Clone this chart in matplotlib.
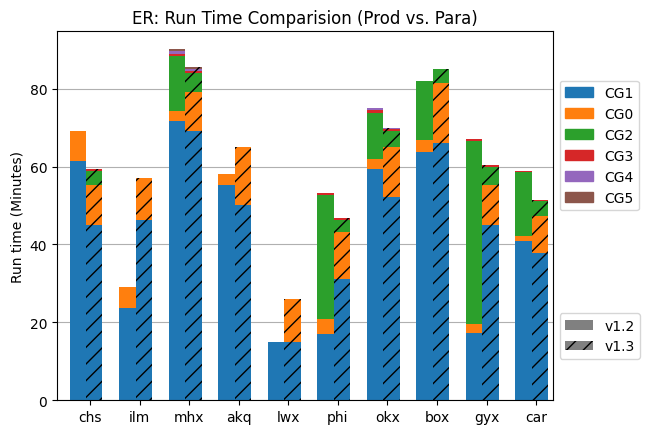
"""
ER run time comparison: stacked bars per site, v1.2 (solid) vs v1.3 (hatched)
"""

import matplotlib
matplotlib.use("Agg")
import matplotlib.pyplot as plt
import matplotlib.patches as mpatches
import numpy as np

sites = ['chs', 'ilm', 'mhx', 'akq', 'lwx', 'phi', 'okx', 'box', 'gyx', 'car']
groups = ['CG1', 'CG0', 'CG2', 'CG3', 'CG4', 'CG5']

# minutes per group, v1.2 (prod)
v12_cg1 = [61.5, 23.6, 71.8, 55.2, 14.9, 16.9, 59.5, 63.8, 17.2, 41.0]
v12_cg0 = [7.7, 5.5, 2.4, 3.0, 0.0, 3.9, 2.4, 3.1, 2.3, 1.1]
v12_cg2 = [0.0, 0.0, 14.3, 0.0, 0.0, 31.8, 11.9, 15.1, 47.2, 16.4]
v12_cg3 = [0.0, 0.0, 0.5, 0.0, 0.0, 0.5, 0.8, 0.0, 0.5, 0.5]
v12_cg4 = [0.0, 0.0, 0.7, 0.0, 0.0, 0.0, 0.5, 0.0, 0.0, 0.0]
v12_cg5 = [0.0, 0.0, 0.6, 0.0, 0.0, 0.0, 0.0, 0.0, 0.0, 0.0]

# minutes per group, v1.3 (para)
v13_cg1 = [45.0, 46.2, 69.2, 50.1, 14.9, 31.1, 52.1, 66.1, 45.1, 37.9]
v13_cg0 = [10.2, 11.0, 10.1, 15.0, 11.0, 12.0, 13.0, 15.3, 10.1, 9.3]
v13_cg2 = [3.8, 0.0, 4.8, 0.0, 0.0, 3.1, 4.1, 3.7, 4.8, 3.9]
v13_cg3 = [0.5, 0.0, 0.5, 0.0, 0.0, 0.5, 0.5, 0.0, 0.5, 0.4]
v13_cg4 = [0.0, 0.0, 0.5, 0.0, 0.0, 0.0, 0.3, 0.0, 0.0, 0.0]
v13_cg5 = [0.0, 0.0, 0.5, 0.0, 0.0, 0.0, 0.0, 0.0, 0.0, 0.0]

colors = ['C0', 'C1', 'C2', 'C3', 'C4', 'C5']


def stack(ax, x, series, width, hatch=None):
    bottom = np.zeros(len(x))
    for vals, color in zip(series, colors):
        vals = np.array(vals)
        if hatch:
            ax.bar(x, vals, width, bottom=bottom, color=color,
                   edgecolor='black', linewidth=0, hatch=hatch)
        else:
            ax.bar(x, vals, width, bottom=bottom, color=color, linewidth=0)
        bottom += vals


fig, ax = plt.subplots(figsize=(6.48, 4.35), dpi=100)
fig.subplots_adjust(left=0.088, right=0.853, bottom=0.078, top=0.926)

x = np.arange(len(sites))
width = 0.333
stack(ax, x - 0.087 - width / 2,
      [v12_cg1, v12_cg0, v12_cg2, v12_cg3, v12_cg4, v12_cg5], width)
stack(ax, x - 0.087 + width / 2,
      [v13_cg1, v13_cg0, v13_cg2, v13_cg3, v13_cg4, v13_cg5], width, hatch='//')

ax.set_xticks(x)
ax.set_xticklabels(sites)
ax.set_xlim(-0.672, 9.337)
ax.set_ylabel('Run time (Minutes)')
ax.set_title('ER: Run Time Comparision (Prod vs. Para)')
ax.yaxis.grid(True, color='#b0b0b0')
ax.set_axisbelow(True)

cg_handles = [mpatches.Patch(color=c, label=g) for c, g in zip(colors, groups)]
leg1 = ax.legend(handles=cg_handles, loc='upper left', bbox_to_anchor=(1.0, 0.885))
ax.add_artist(leg1)

ver_handles = [mpatches.Patch(facecolor='gray', label='v1.2'),
               mpatches.Patch(facecolor='gray', edgecolor='black', linewidth=0,
                              hatch='//', label='v1.3')]
ax.legend(handles=ver_handles, loc='upper left', bbox_to_anchor=(1.0, 0.255))

plt.savefig('out.png', dpi=100)
